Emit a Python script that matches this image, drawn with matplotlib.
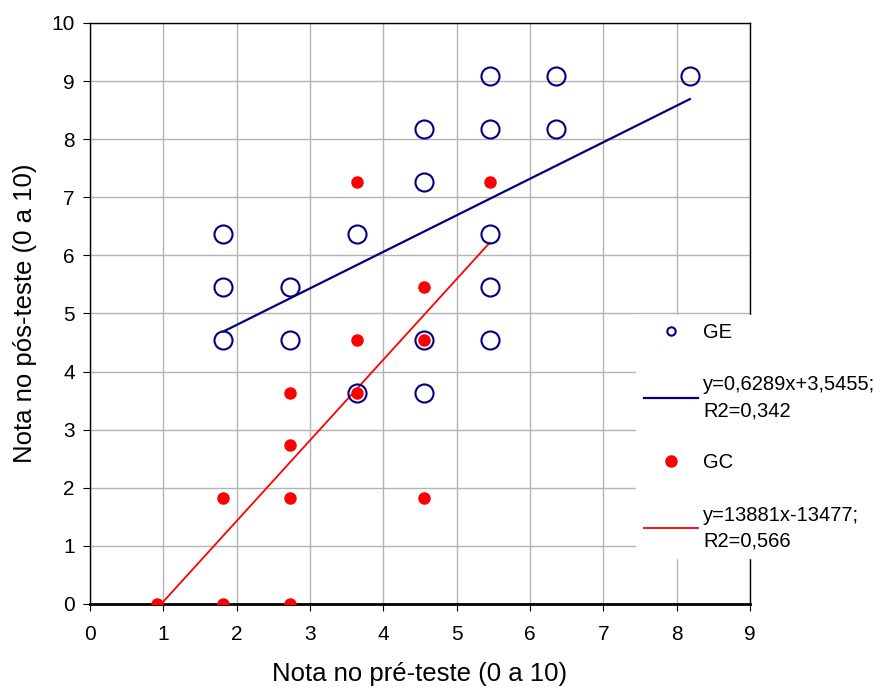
import matplotlib.pyplot as plt
from matplotlib.lines import Line2D

plt.rcParams['font.family'] = ['Liberation Sans', 'DejaVu Sans']

# GE (grupo experimental)
ge_x = [1.82, 1.82, 1.82, 2.73, 2.73, 3.64, 3.64, 4.55, 4.55, 4.55, 4.55,
        5.45, 5.45, 5.45, 5.45, 5.45, 6.36, 6.36, 8.18]
ge_y = [6.36, 5.45, 4.55, 5.45, 4.55, 6.36, 3.64, 8.18, 7.27, 4.55, 3.64,
        9.09, 8.18, 6.36, 5.45, 4.55, 9.09, 8.18, 9.09]

# GC (grupo controle)
gc_x = [0.91, 1.82, 2.73, 1.82, 2.73, 2.73, 2.73, 3.64, 3.64, 3.64,
        4.55, 4.55, 4.55, 5.45]
gc_y = [0.0, 0.0, 0.0, 1.82, 1.82, 2.73, 3.64, 3.64, 4.55, 7.27,
        5.45, 4.55, 1.82, 7.27]

# linhas de tendencia (coeficientes da legenda)
ge_fit = (0.6289, 3.5455)
gc_fit = (1.3881, -1.3477)
ge_lbl = 'y=0,6289x+3,5455;\nR2=0,342'
gc_lbl = 'y=13881x-13477;\nR2=0,566'

fig = plt.figure(figsize=(8.83, 6.88), dpi=100)
ax = fig.add_axes([0.1019, 0.1221, 0.7475, 0.8445])

ax.plot(ge_x, ge_y, 'o', ms=13, mfc='none', mec='#000080', mew=1.5, zorder=3)
ax.plot(gc_x, gc_y, 'o', ms=8, color='#ff0000', mec='#ff0000', zorder=4)

xs = [min(ge_x), max(ge_x)]
ax.plot(xs, [ge_fit[0] * v + ge_fit[1] for v in xs], color='#000080', lw=1.6, zorder=2)
xs = [min(gc_x), max(gc_x)]
ax.plot(xs, [gc_fit[0] * v + gc_fit[1] for v in xs], color='#ff0000', lw=1.3, zorder=2)

ax.set_xlim(0, 9)
ax.set_ylim(0, 10)
ax.set_xticks(range(10))
ax.set_yticks(range(11))
ax.grid(True, color='#b3b3b3', lw=1)
ax.set_axisbelow(True)
ax.tick_params(labelsize=15, length=5, direction='out', color='black')
ax.tick_params(axis='x', pad=10)
ax.tick_params(axis='y', pad=6)
for s in ax.spines.values():
    s.set_linewidth(1)
ax.spines['bottom'].set_linewidth(2)
ax.set_xlabel('Nota no pré-teste (0 a 10)', fontsize=18.5, labelpad=13)
ax.set_ylabel('Nota no pós-teste (0 a 10)', fontsize=18.5, labelpad=10)

handles = [
    Line2D([], [], ls='none', marker='o', ms=6, mfc='none', mec='#000080', mew=1.5),
    Line2D([], [], color='#000080', lw=1.6),
    Line2D([], [], ls='none', marker='o', ms=8, color='#ff0000'),
    Line2D([], [], color='#ff0000', lw=1.3),
]
labels = ['GE', ge_lbl, 'GC', gc_lbl]
leg = fig.legend(handles, labels, loc='upper left', bbox_to_anchor=(0.72, 0.542),
                 frameon=True, fontsize=14.5, handlelength=2.7, handletextpad=0.25,
                 labelspacing=1.65, borderpad=0.4, borderaxespad=0, fancybox=False)
for t in leg.get_texts():
    t.set_linespacing(1.45)
leg.get_frame().set_edgecolor('white')
leg.get_frame().set_facecolor('white')
leg.get_frame().set_alpha(1)
leg.set_zorder(10)

fig.savefig('out.png', dpi=100)
